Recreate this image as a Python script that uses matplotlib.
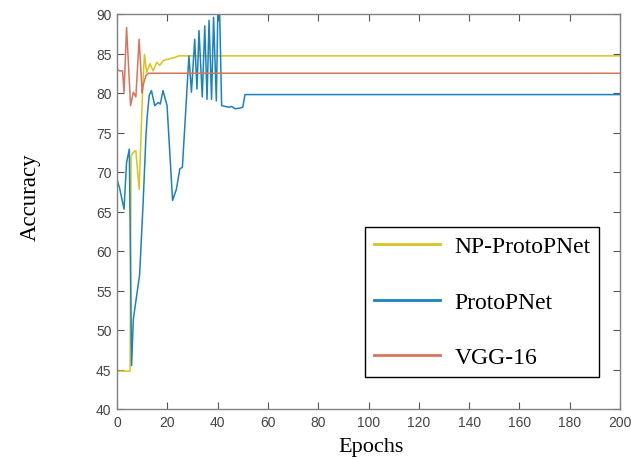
import matplotlib.pyplot as plt
import numpy as np

# keypoints (epoch, accuracy)
np_epochs = [0, 5.2, 5.6, 6.5, 7.5, 8.8, 10.2, 10.9, 11.8, 13.1, 14.4, 15.8, 17.0, 18.4, 20.4, 23.0, 24.5, 200]
np_acc = [44.8, 44.8, 72.0, 72.5, 72.7, 67.8, 80.5, 84.9, 82.6, 83.7, 82.8, 83.9, 83.5, 84.1, 84.3, 84.5, 84.7, 84.7]

pp_epochs = [0, 1, 2.8, 3.8, 4.9, 5.8, 6.5, 9.0, 10.4, 11.5, 12.0, 12.8, 13.7, 15.0, 16.4, 17.2, 18.3, 19.9, 22.1,
             23.6, 25.0, 26.0, 27.0, 28.6, 29.6, 30.9, 31.8, 32.6, 33.9, 34.9, 35.8, 36.6, 37.6, 38.4, 39.5,
             40.1, 40.8, 41.6, 43.0, 44.5, 45.6, 47.0, 49.0, 50.0, 50.9, 200]
pp_acc = [69.0, 68.0, 65.3, 71.2, 72.9, 45.5, 51.4, 57.0, 66.2, 74.5, 77.0, 79.7, 80.3, 78.4, 78.8, 78.6, 80.3, 78.4, 66.4,
          67.8, 70.4, 70.6, 76.0, 84.7, 80.1, 86.8, 80.5, 87.9, 79.5, 88.5, 79.2, 89.2, 79.2, 89.6, 79.0,
          90.5, 90.5, 78.4, 78.3, 78.2, 78.3, 78.0, 78.1, 78.2, 79.8, 79.8]

vgg_epochs = [0, 1, 2.2, 2.8, 3.8, 5.4, 6.5, 7.5, 8.8, 10.0, 10.4, 11.5, 12.5, 200]
vgg_acc = [83.0, 82.8, 82.8, 80.1, 88.3, 78.4, 80.1, 79.5, 86.8, 80.0, 81.0, 82.2, 82.5, 82.5]

series_names = ["NP-ProtoPNet", "ProtoPNet", "VGG-16"]
x_ticks = list(range(0, 201, 20))
y_ticks = list(range(40, 91, 5))

fig = plt.figure(figsize=(6.31, 4.60), dpi=100)
ax = fig.add_axes([117 / 631, 1 - 410 / 460, 503 / 631, 395 / 460])

ax.plot(np_epochs, np_acc, color="#DCC21E", lw=1.1, label=series_names[0])
ax.plot(pp_epochs, pp_acc, color="#1B82C2", lw=1.1, label=series_names[1])
ax.plot(vgg_epochs, vgg_acc, color="#D9745C", lw=1.1, label=series_names[2])

ax.set_xlim(0, 200)
ax.set_ylim(40, 90)
ax.set_xticks(x_ticks)
ax.set_yticks(y_ticks)
ax.tick_params(direction="in", length=5, width=0.8, color="#555555", top=True, right=True,
               labelsize=10, labelcolor="#444444", pad=4)
for lab in ax.get_xticklabels() + ax.get_yticklabels():
    lab.set_family("Liberation Sans")
for sp in ax.spines.values():
    sp.set_color("#808080")
    sp.set_linewidth(1.0)

ax.set_xlabel("Epochs", family="Liberation Serif", fontsize=16, va="center")
ax.set_ylabel("Accuracy", family="Liberation Serif", fontsize=16.5, va="center")
ax.xaxis.set_label_coords(0.505, -0.094)
ax.yaxis.set_label_coords(-0.173, 0.54)

leg = ax.legend(loc="upper left", bbox_to_anchor=(365 / 631, 1 - 228 / 460), bbox_transform=fig.transFigure,
                borderaxespad=0, fancybox=False, framealpha=1, edgecolor="black",
                prop={"family": "Liberation Serif", "size": 17}, handlelength=2.8, handletextpad=0.6,
                labelspacing=1.43, borderpad=0.38)
leg.get_frame().set_linewidth(1.0)
for line in leg.get_lines():
    line.set_linewidth(2.0)

fig.savefig("out.png", dpi=100)
